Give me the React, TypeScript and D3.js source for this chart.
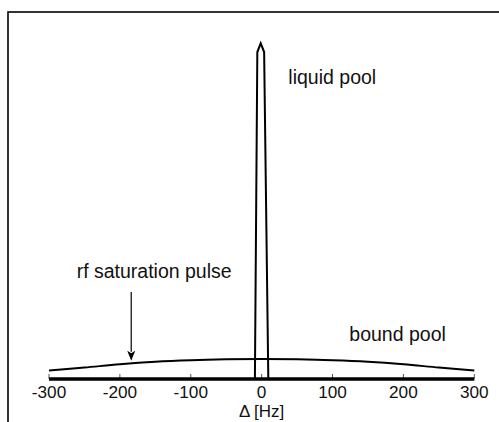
import React from "react";
import * as d3 from "d3";

// Frequency offsets (Hz) and relative amplitudes (liquid peak = 100)
const boundDelta = [-300, -250, -200, -150, -100, -50, 0, 50, 100, 150, 200, 250, 300];
const boundValue = [2.5, 3.4, 4.4, 5.15, 5.6, 5.85, 5.95, 5.85, 5.6, 5.15, 4.4, 3.4, 2.5];

const liquidDelta = [-9.5, -6.1, -1.3, 3.5, 9.4];
const liquidValue = [0, 97.4, 100, 97.4, 0];

const tickValues = [-300, -200, -100, 0, 100, 200, 300];
const tickLabels = ["-300", "-200", "-100", "0", "100", "200", "300"];

const axisLabel = "Δ [Hz]";
const labelTexts = ["liquid pool", "rf saturation pulse", "bound pool"];
const labelDelta = [37.7, -261, 123.7];
const labelValue = [87.8, 30.1, 11.2];

const arrowDelta = -184;
const arrowFrom = 25.9;
const arrowTo = 5.4;

const W = 499;
const H = 422;
const FONT = "'Liberation Sans', Arial, Helvetica, sans-serif";

export default function App() {
  const x = d3.scaleLinear().domain([-300, 300]).range([49, 474.3]);
  const y = d3.scaleLinear().domain([0, 100]).range([379, 43.3]);

  const boundLine = d3
    .line<number>()
    .x((_, i) => x(boundDelta[i]))
    .y((d) => y(d))
    .curve(d3.curveCatmullRom.alpha(0.5));
  const liquidLine = d3
    .line<number>()
    .x((_, i) => x(liquidDelta[i]))
    .y((d) => y(d))
    .curve(d3.curveLinear);

  const ax = x(arrowDelta);
  const ay0 = y(arrowFrom);
  const ay1 = y(arrowTo);
  const headLen = 10;
  const headHalf = 4;

  return (
    <svg
      width={W}
      height={H}
      style={{ position: "absolute", left: 0, top: 0, background: "#fff" }}
    >
      <rect x={0} y={0} width={W} height={H} fill="#fff" />
      <rect x={8} y={12} width={600} height={600} fill="none" stroke="#000" strokeWidth={1.6} />

      {/* ticks */}
      {tickValues.map((t) => (
        <line key={"t" + t} x1={x(t)} x2={x(t)} y1={y(0)} y2={y(0) - 5} stroke="#555" strokeWidth={1} />
      ))}
      {/* axis line */}
      <line x1={x(-300)} x2={x(300)} y1={y(0)} y2={y(0)} stroke="#000" strokeWidth={3.5} />

      {tickValues.map((t, i) => (
        <text
          key={"l" + t}
          x={x(t)}
          y={398}
          textAnchor="middle"
          fontFamily={FONT}
          fontSize={17.2}
          fill="#111"
        >
          {tickLabels[i]}
        </text>
      ))}
      <text x={x(0)} y={417} textAnchor="middle" fontFamily={FONT} fontSize={17} fill="#111">
        {axisLabel}
      </text>

      <path d={boundLine(boundValue) || ""} fill="none" stroke="#000" strokeWidth={2} />
      <path
        d={liquidLine(liquidValue) || ""}
        fill="none"
        stroke="#000"
        strokeWidth={2}
        strokeLinejoin="miter"
      />

      {labelTexts.map((t, i) => (
        <text
          key={t}
          x={x(labelDelta[i])}
          y={y(labelValue[i])}
          fontFamily={FONT}
          fontSize={19.5}
          fill="#111"
        >
          {t}
        </text>
      ))}

      <line x1={ax} x2={ax} y1={ay0} y2={ay1 - headLen + 1} stroke="#000" strokeWidth={1.2} />
      <path
        d={`M${ax},${ay1} L${ax - headHalf},${ay1 - headLen} L${ax},${ay1 - headLen + 2.5} L${ax + headHalf},${ay1 - headLen} Z`}
        fill="#000"
      />
    </svg>
  );
}
